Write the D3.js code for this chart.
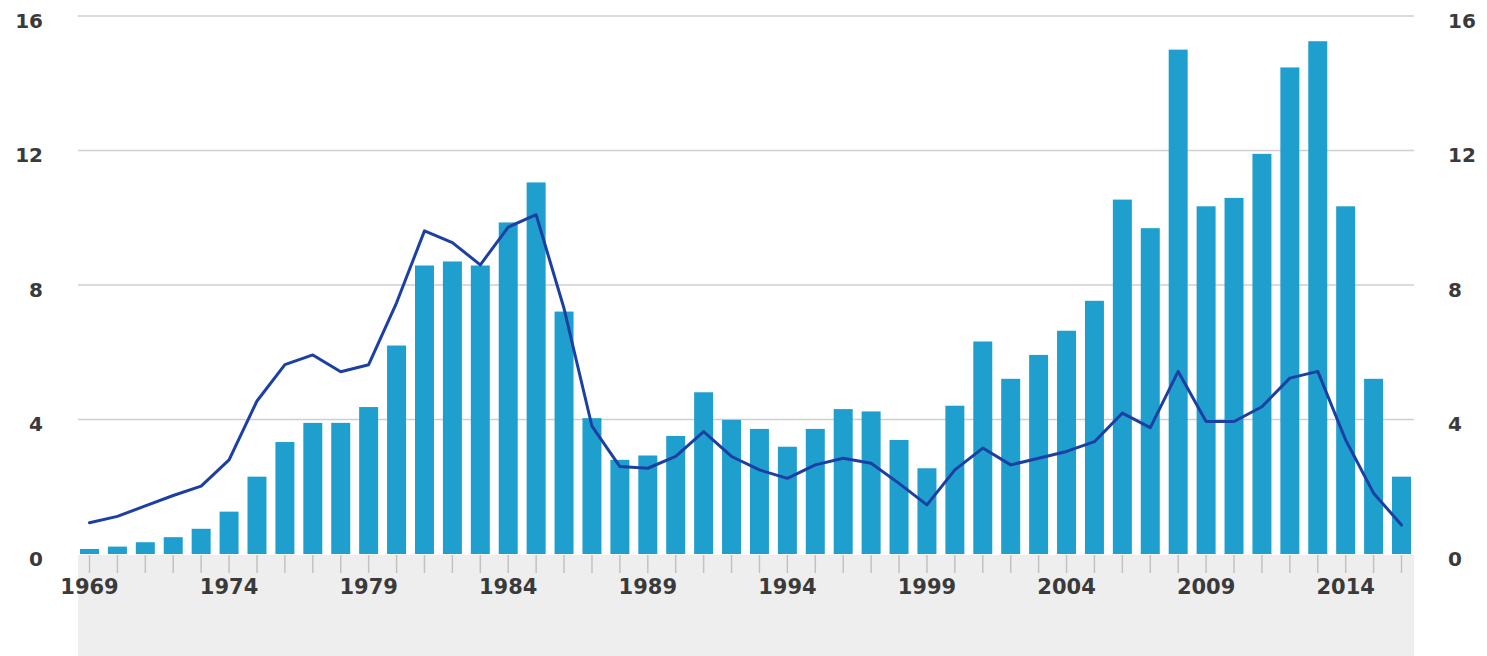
<!DOCTYPE html>
<html>
<head>
<meta charset="utf-8">
<script src="https://cdn.jsdelivr.net/npm/d3@7"></script>
<style>
  html, body { margin: 0; padding: 0; background: #ffffff; }
  svg { display: block; }
  text { font-family: "DejaVu Sans", "Open Sans", sans-serif; }
</style>
</head>
<body>
<div id="chart"></div>
<script>
const years = d3.range(1969, 2017);
const barValues = [
  0.15, 0.22, 0.35, 0.5, 0.75, 1.26, 2.3, 3.33, 3.9, 3.9,
  4.37, 6.2, 8.58, 8.7, 8.58, 9.86, 11.05, 7.21, 4.04, 2.8,
  2.93, 3.51, 4.81, 3.99, 3.72, 3.19, 3.72, 4.31, 4.24, 3.39,
  2.55, 4.41, 6.32, 5.21, 5.92, 6.64, 7.53, 10.54, 9.69, 15.0,
  10.34, 10.59, 11.9, 14.47, 15.25, 10.34, 5.21, 2.3
];
const lineValues = [
  0.93, 1.12, 1.43, 1.74, 2.02, 2.8, 4.55, 5.63, 5.92, 5.42,
  5.63, 7.47, 9.61, 9.26, 8.6, 9.72, 10.09, 7.3, 3.8, 2.6,
  2.55, 2.9, 3.64, 2.9, 2.5, 2.25, 2.65, 2.85, 2.7, 2.1,
  1.46, 2.5, 3.15, 2.65, 2.85, 3.05, 3.34, 4.19, 3.76, 5.43,
  3.94, 3.94, 4.38, 5.23, 5.43, 3.39, 1.81, 0.86
];
const yTicks = [0, 4, 8, 12, 16];
const xTickYears = [1969, 1974, 1979, 1984, 1989, 1994, 1999, 2004, 2009, 2014];

const W = 1487, H = 656;
const svg = d3.select("#chart").append("svg").attr("width", W).attr("height", H);

const x = d3.scaleBand().domain(years).range([80, 1411]).paddingInner(0.32).paddingOuter(0);
const y = d3.scaleLinear().domain([0, 16]).range([554, 16]);
const plotLeft = 78, plotRight = 1414;

// grey band below
svg.append("rect").attr("x", plotLeft).attr("y", y(0) + 1).attr("width", plotRight - plotLeft)
  .attr("height", H - y(0)).attr("fill", "#eeeeee");

// gridlines
svg.append("g").selectAll("line").data(yTicks.filter(d => d > 0)).join("line")
  .attr("x1", plotLeft).attr("x2", plotRight)
  .attr("y1", d => y(d)).attr("y2", d => y(d))
  .attr("stroke", "#cfcfcf").attr("stroke-width", 1.5);

// left axis
const leftAxis = svg.append("g").attr("transform", `translate(43,0)`)
  .call(d3.axisLeft(y).tickValues(yTicks).tickSize(0).tickPadding(0).tickFormat(d3.format("d")));
leftAxis.select(".domain").remove();
leftAxis.selectAll("text").attr("font-size", 20).attr("font-weight", "bold").attr("fill", "#3a3a3a").attr("dy", "0.55em")
  .style("font-family", "'DejaVu Sans', sans-serif");

// right axis
const rightAxis = svg.append("g").attr("transform", `translate(1448,0)`)
  .call(d3.axisRight(y).tickValues(yTicks).tickSize(0).tickPadding(0).tickFormat(d3.format("d")));
rightAxis.select(".domain").remove();
rightAxis.selectAll("text").attr("font-size", 20).attr("font-weight", "bold").attr("fill", "#3a3a3a").attr("dy", "0.55em")
  .style("font-family", "'DejaVu Sans', sans-serif");

// bottom axis ticks
const xAxis = svg.append("g").attr("transform", `translate(0,${y(0) + 1})`)
  .call(d3.axisBottom(x).tickValues(years).tickSize(18).tickPadding(6)
    .tickFormat(d => xTickYears.includes(d) ? d : ""));
xAxis.select(".domain").remove();
xAxis.selectAll("line").attr("stroke", "#c2c2c2").attr("stroke-width", 1.5);
xAxis.selectAll("text").attr("font-size", 21).attr("font-weight", "bold").attr("fill", "#3a3a3a")
  .style("font-family", "'DejaVu Sans', sans-serif");

// bars
svg.append("g").selectAll("rect").data(years).join("rect")
  .attr("x", d => x(d)).attr("width", x.bandwidth())
  .attr("y", (d, i) => y(barValues[i]))
  .attr("height", (d, i) => y(0) - y(barValues[i]))
  .attr("fill", "#1f9fcd");

// line
const line = d3.line()
  .x((d, i) => x(years[i]) + x.bandwidth() / 2)
  .y(d => y(d))
  .curve(d3.curveLinear);
svg.append("path").datum(lineValues).attr("d", line)
  .attr("fill", "none").attr("stroke", "#1c3fa3").attr("stroke-width", 3)
  .attr("stroke-linejoin", "round").attr("stroke-linecap", "round");
</script>
</body>
</html>
